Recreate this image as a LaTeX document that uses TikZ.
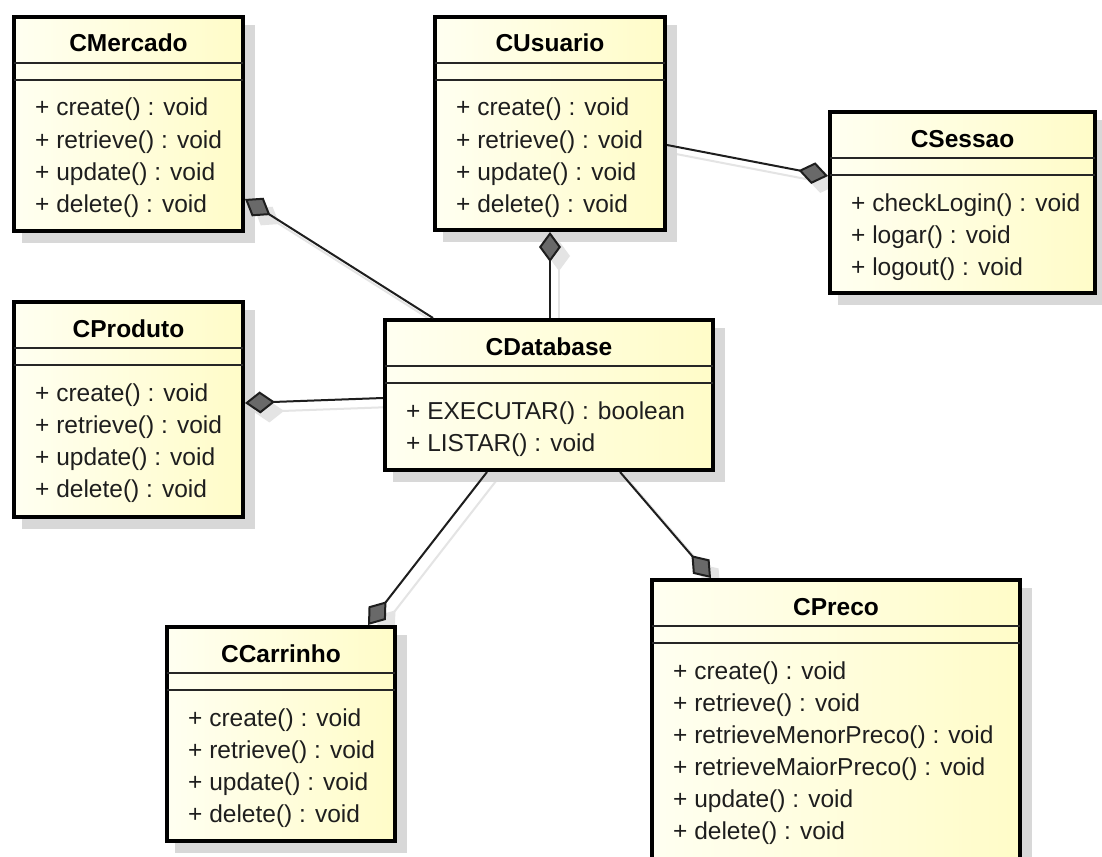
\documentclass[tikz,border=0pt]{standalone}
\usepackage{fontspec}
\setmainfont{Liberation Sans}
\usetikzlibrary{arrows.meta,calc,backgrounds}

\definecolor{boxleft}{RGB}{255,255,241}
\definecolor{boxright}{RGB}{255,252,200}
\definecolor{inkdark}{RGB}{30,30,30}
\definecolor{shadowgray}{RGB}{216,216,216}
\definecolor{linkgray}{RGB}{228,228,228}
\definecolor{diamondgray}{RGB}{105,105,105}

\tikzset{
  classbox/.style={draw=black, line width=4pt, left color=boxleft, right color=boxright, inner sep=0pt},
  classshadow/.style={fill=shadowgray},
  divider/.style={draw=black!85, line width=2pt},
  classtitle/.style={font=\fontsize{24.5}{30}\selectfont\bfseries, text=black, inner sep=0pt, anchor=base},
  member/.style={font=\fontsize{24.5}{30}\selectfont, text=inkdark, inner sep=0pt, anchor=base west},
  composition/.style={draw=inkdark, line width=2pt, -{Diamond[length=30pt, width=22pt, fill=diamondgray]}},
  linkshadow/.style={draw=linkgray, line width=2pt, -{Diamond[length=30pt, width=22pt, fill=linkgray]}},
}

% UML class: name, left, top, right, bottom, title, operations
\newcommand\umlclass[7]{%
  \pgfmathsetmacro\boxw{#4-#2-4}%
  \pgfmathsetmacro\boxh{#5-#3-4}%
  \fill[classshadow] (#2+10,#3+10) rectangle (#4+10,#5+10);
  \node[classbox, minimum width=\boxw pt, minimum height=\boxh pt] (#1) at ({(#2+#4)/2},{(#3+#5)/2}) {};
  \draw[divider] (#2+2,#3+48) -- (#4-2,#3+48);
  \draw[divider] (#2+2,#3+65) -- (#4-2,#3+65);
  \node[classtitle] (#1-title) at ({(#2+#4)/2},#3+37) {#6};
  \foreach \m [count=\i from 0] in {#7}
    \node[member] (#1-m\i) at (#2+23,#3+101+32*\i) {\m};
}

% composition: whole anchor, offset, part anchor, offset (diamond at the part end)
\newcommand\composition[4]{%
  \begin{pgfonlayer}{background}
    \draw[linkshadow] ($(#1)+(#2)+(9,9)$) -- ($(#3)+(#4)+(9,9)$);
  \end{pgfonlayer}
  \draw[composition] ($(#1)+(#2)$) -- ($(#3)+(#4)$);
}

\begin{document}
\begin{tikzpicture}[x=1pt, y=-1pt]
  \useasboundingbox (0,0) rectangle (1102,856);
  \begin{pgfonlayer}{background}
    \fill[white] (0,0) rectangle (1102,856);
  \end{pgfonlayer}
  \clip (0,0) rectangle (1102,856);

  \umlclass{merc}{12}{15}{245}{233}{CMercado}%
    {+ create() : void, + retrieve() : void, + update() : void, + delete() : void}
  \umlclass{usu}{433}{15}{667}{232}{CUsuario}%
    {+ create() : void, + retrieve() : void, + update() : void, + delete() : void}
  \umlclass{ses}{828}{110}{1097}{295}{CSessao}%
    {+ checkLogin() : void, + logar() : void, + logout() : void}
  \umlclass{prod}{12}{300}{245}{519}{CProduto}%
    {+ create() : void, + retrieve() : void, + update() : void, + delete() : void}
  \umlclass{db}{383}{318}{715}{472}{CDatabase}%
    {+ EXECUTAR() : boolean, + LISTAR() : void}
  \umlclass{car}{165}{625}{397}{843}{CCarrinho}%
    {+ create() : void, + retrieve() : void, + update() : void, + delete() : void}
  \umlclass{pre}{650}{578}{1022}{900}{CPreco}%
    {+ create() : void, + retrieve() : void, + retrieveMenorPreco() : void,
     + retrieveMaiorPreco() : void, + update() : void, + delete() : void}

  \composition{db.north west}{50,0}{merc.south east}{0,-34}
  \composition{db.north}{1,0}{usu.south}{0,0}
  \composition{usu.north east}{0,130}{ses.north west}{0,66}
  \composition{db.north west}{0,80}{prod.north east}{0,103}
  \composition{db.south west}{104,0}{car.north west}{203,0}
  \composition{db.south west}{237,0}{pre.north west}{61,0}
\end{tikzpicture}
\end{document}
